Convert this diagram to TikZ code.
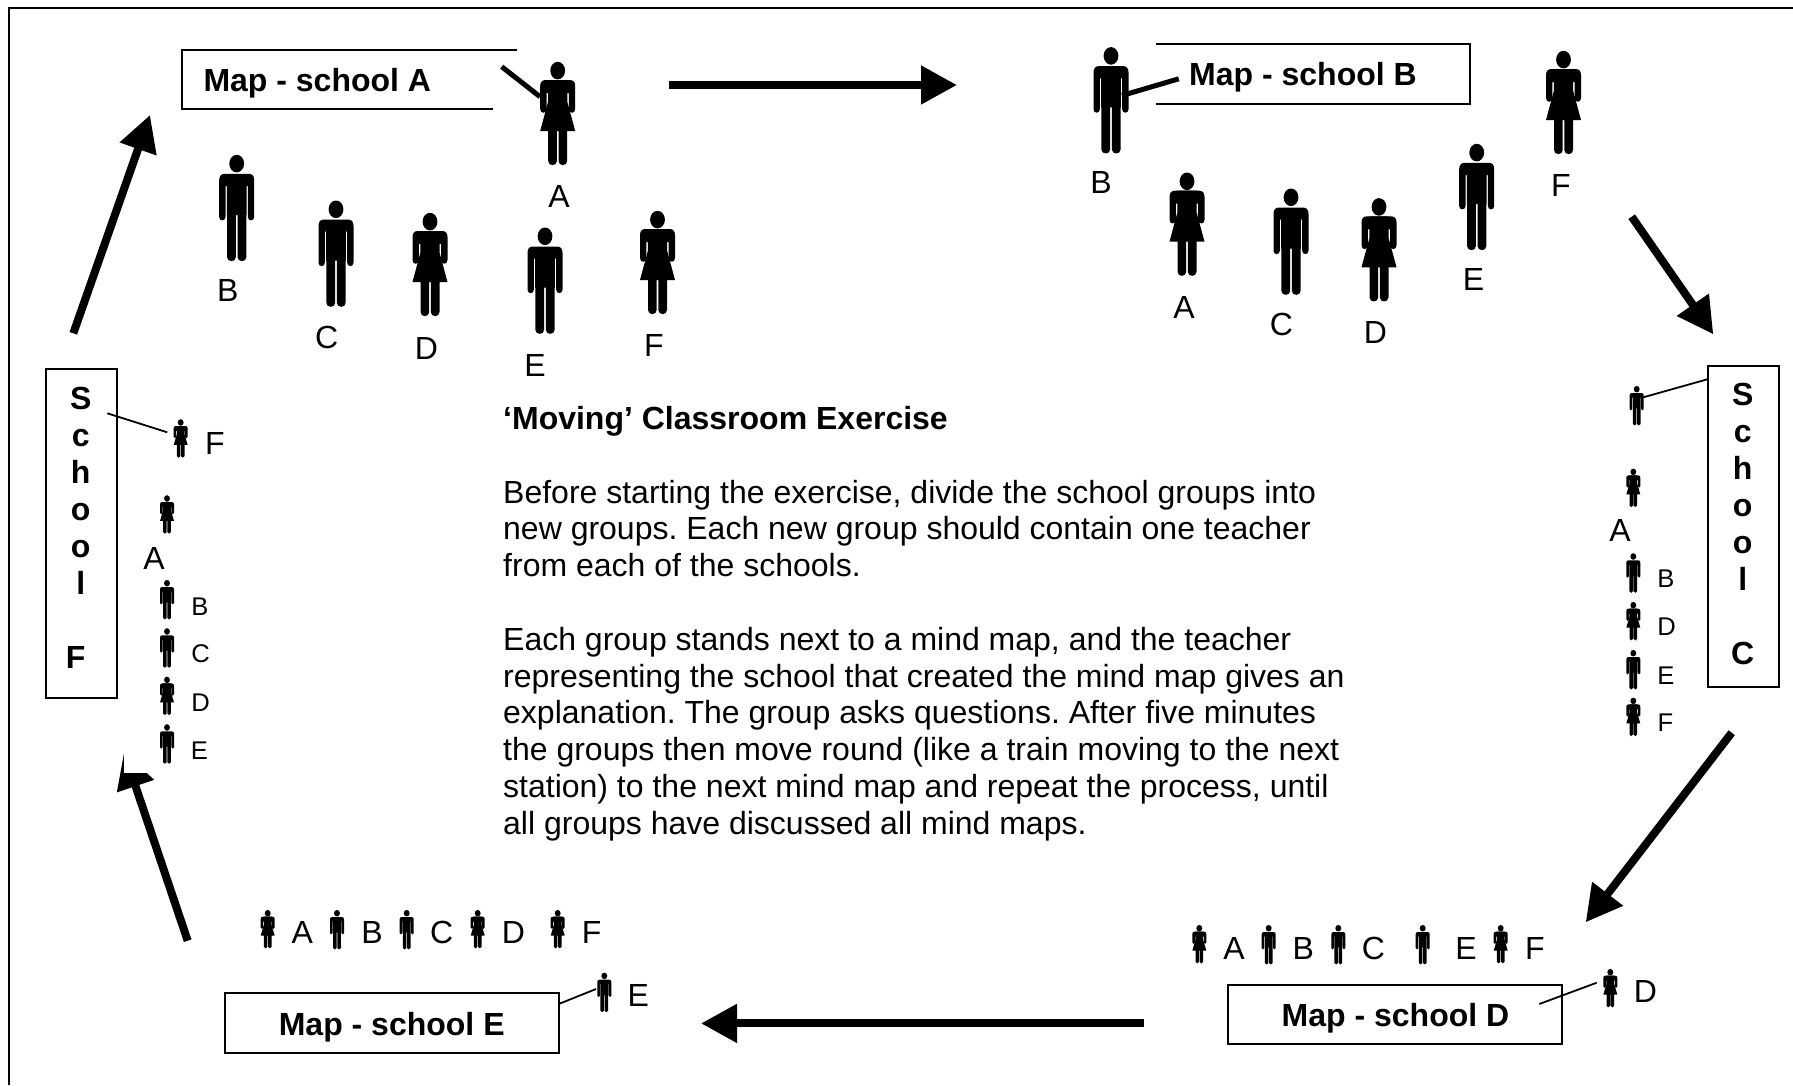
\documentclass[tikz,border=0pt]{standalone}
\usepackage{fontspec}
\setmainfont{Liberation Sans}
\usetikzlibrary{arrows.meta}
\frenchspacing
\tikzset{
  x=1pt,y=-1pt,
  big/.style={font=\fontsize{32}{36.8}\selectfont,anchor=base,inner sep=0pt},
  small/.style={font=\fontsize{25.6}{29}\selectfont,anchor=base,inner sep=0pt},
  maplabel/.style={font=\fontsize{32}{36.8}\selectfont\bfseries,anchor=base,inner sep=0pt},
  mapbox/.style={draw=black,line width=1.8pt,inner sep=0pt,fill=white},
  vtext/.style={font=\fontsize{32}{37}\selectfont\bfseries,align=center,anchor=north,inner sep=0pt},
  bodytext/.style={font=\fontsize{32}{36.8}\selectfont\frenchspacing,align=left,anchor=north west,inner sep=0pt},
  flow/.style={line width=8pt,-{Triangle[length=36pt,width=37pt]}},
  thinlead/.style={line width=1.8pt},
  pointer/.style={line width=5pt},
  tiny/.style={xscale=.4,yscale=.372},
  male/.pic={
    \fill (0,8.6) ellipse [x radius=7.4, y radius=8.8];
    \fill (-12,18.8) -- (12,18.8) .. controls (15.5,18.8) and (17.5,21) .. (17.5,25)
      -- (17.5,62) .. controls (17.5,66.5) and (11.2,66.5) .. (11.2,62) -- (11.2,31) -- (9.9,31) -- (9.9,60)
      -- (9.7,60) -- (9.7,102) .. controls (9.7,107.5) and (0.8,107.5) .. (0.8,102) -- (0.8,60)
      -- (-0.8,60) -- (-0.8,102) .. controls (-0.8,107.5) and (-9.7,107.5) .. (-9.7,102) -- (-9.7,60)
      -- (-9.9,60) -- (-9.9,31) -- (-11.2,31) -- (-11.2,62) .. controls (-11.2,66.5) and (-17.5,66.5) .. (-17.5,62)
      -- (-17.5,25) .. controls (-17.5,21) and (-15.5,18.8) .. (-12,18.8) -- cycle;
  },
  female/.pic={
    \fill (0,8.6) ellipse [x radius=7.4, y radius=8.8];
    % torso, skirt and legs
    \fill (-9.7,18) -- (9.7,18) -- (9.7,40) -- (17.5,69) -- (9.5,69) -- (9.5,99)
      .. controls (9.5,104.5) and (0.8,104.5) .. (0.8,99) -- (0.8,69)
      -- (-0.8,69) -- (-0.8,99) .. controls (-0.8,104.5) and (-9.5,104.5) .. (-9.5,99) -- (-9.5,69)
      -- (-17.5,69) -- (-9.7,40) -- cycle;
    % shoulders and arms
    \fill (-12,18) -- (12,18) .. controls (15.5,18) and (17.5,20) .. (17.5,24)
      -- (17.5,47) .. controls (17.5,52) and (11.2,52) .. (11.2,47) -- (11.2,31) -- (-11.2,31)
      -- (-11.2,47) .. controls (-11.2,52) and (-17.5,52) .. (-17.5,47)
      -- (-17.5,24) .. controls (-17.5,20) and (-15.5,18) .. (-12,18) -- cycle;
  }
}
\begin{document}
\begin{tikzpicture}
\useasboundingbox (0,0) rectangle (1793,1085);
% outer frame (left and top edges)
\coordinate (frameA) at (9,1085);
\coordinate (frameB) at (9,8);
\coordinate (frameC) at (1793,8);
\draw[line width=2pt] (frameA) -- (frameB) -- (frameC);

% flow arrows
\coordinate (a1s) at (73.3,333.3); \coordinate (a1e) at (150,115);
\coordinate (a2s) at (669,85);     \coordinate (a2e) at (957,85);
\coordinate (a3s) at (1631.7,216.7); \coordinate (a3e) at (1713.3,334.3);
\coordinate (a4s) at (1731.7,732.7); \coordinate (a4e) at (1585.7,922.3);
\coordinate (a5s) at (1143.5,1023.4); \coordinate (a5e) at (701,1023.4);
\coordinate (a6s) at (187.7,940.7); \coordinate (a6e) at (124,752);
\draw[flow] (a1s) -- (a1e);
\draw[flow] (a2s) -- (a2e);
\draw[flow] (a3s) -- (a3e);
\draw[flow] (a4s) -- (a4e);
\draw[flow] (a5s) -- (a5e);
\draw[flow] (a6s) -- (a6e);
% the picture's white mask that clips the top of the last arrow head
\fill[white] (124.2,735) rectangle (185,773.3);

% Map A (open box)
\coordinate (boxAa) at (516.7,49.7);
\coordinate (boxAb) at (182,49.7);
\coordinate (boxAc) at (182,109);
\coordinate (boxAd) at (493.3,109);
\draw[line width=1.8pt] (boxAa) -- (boxAb) -- (boxAc) -- (boxAd);
\node[maplabel,anchor=base west] (mapA) at (203.3,91.5) {Map - school A};
\coordinate (pAa) at (501.7,66.7); \coordinate (pAb) at (540,96.7);
\draw[pointer] (pAa) -- (pAb);
\pic at (557.7,62) {female};
\pic at (236.7,155) {male};
\pic at (336,200.7) {male};
\pic at (430,213) {female};
\pic at (545,227.7) {male};
\pic at (657.5,211) {female};
\node[big] (aA) at (559,207.7) {A};
\node[big] (aB) at (227.7,301.7) {B};
\node[big] (aC) at (326.7,348) {C};
\node[big] (aD) at (426.5,359) {D};
\node[big] (aE) at (535,376) {E};
\node[big] (aF) at (654,356) {F};

% Map B (open box)
\coordinate (boxBa) at (1156,44);
\coordinate (boxBb) at (1469.8,44);
\coordinate (boxBc) at (1469.8,104.2);
\coordinate (boxBd) at (1156,104.2);
\draw[line width=1.8pt] (boxBa) -- (boxBb) -- (boxBc) -- (boxBd);
\node[maplabel,anchor=base west] (mapB) at (1189,85.3) {Map - school B};
\coordinate (pBa) at (1178.8,78.8); \coordinate (pBb) at (1122,95.5);
\draw[pointer] (pBa) -- (pBb);
\pic at (1111,47.3) {male};
\pic at (1563.5,51) {female};
\pic at (1187,172.7) {female};
\pic at (1291,188.7) {male};
\pic at (1379,198.3) {female};
\pic at (1476.7,144) {male};
\node[big] (bB) at (1101,193.7) {B};
\node[big] (bA) at (1184,318.3) {A};
\node[big] (bC) at (1281.5,335.7) {C};
\node[big] (bD) at (1375.5,343.5) {D};
\node[big] (bE) at (1473.6,290) {E};
\node[big] (bF) at (1561,196) {F};

% School C
\node[mapbox,minimum width=71pt,minimum height=320.7pt] (boxC) at (1743.2,526.3) {};
\node[vtext] (schoolC) at (1742.7,383) {S\\c\\h\\o\\o\\l\\~\\C};
\coordinate (pCa) at (1707.3,379.3); \coordinate (pCb) at (1643.3,397.3);
\draw[thinlead] (pCa) -- (pCb);
\pic[tiny] at (1636.7,386) {male};
\pic[tiny] at (1633.3,468.7) {female};
\pic[tiny] at (1633.3,553.3) {male};
\pic[tiny] at (1633.3,602) {female};
\pic[tiny] at (1633.3,650) {male};
\pic[tiny] at (1633.3,697.7) {female};
\node[big] (cA) at (1620,541.7) {A};
\node[small] (cB) at (1666,587.7) {B};
\node[small] (cD) at (1666.7,635.7) {D};
\node[small] (cE) at (1666,684) {E};
\node[small] (cF) at (1665.3,731.7) {F};

% Map D
\node[mapbox,minimum width=333.7pt,minimum height=59.3pt] (boxD) at (1395.2,1014.7) {};
\node[maplabel] (mapD) at (1395.5,1026) {Map - school D};
\coordinate (pDa) at (1539.3,1004); \coordinate (pDb) at (1596.7,982.7);
\draw[thinlead] (pDa) -- (pDb);
\pic[tiny] at (1199.3,925) {female};
\pic[tiny] at (1268.7,925) {male};
\pic[tiny] at (1338.3,925) {male};
\pic[tiny] at (1422.7,925) {male};
\pic[tiny] at (1500.7,925) {female};
\pic[tiny] at (1610.3,969) {female};
\node[big] (dA) at (1234,959) {A};
\node[big] (dB) at (1303.3,959) {B};
\node[big] (dC) at (1373.3,959) {C};
\node[big] (dE) at (1466,959) {E};
\node[big] (dF) at (1535,959) {F};
\node[big] (dD) at (1645.3,1002.7) {D};

% Map E
\node[mapbox,minimum width=334pt,minimum height=59.4pt] (boxE) at (391.7,1023) {};
\node[maplabel] (mapE) at (391.7,1035) {Map - school E};
\coordinate (pEa) at (558.7,1004); \coordinate (pEb) at (596,989);
\draw[thinlead] (pEa) -- (pEb);
\pic[tiny] at (267.7,910) {female};
\pic[tiny] at (337,910) {male};
\pic[tiny] at (406.7,910) {male};
\pic[tiny] at (477.7,910) {female};
\pic[tiny] at (557.7,910) {female};
\pic[tiny] at (604.3,972.7) {male};
\node[big] (eA) at (302.3,943.3) {A};
\node[big] (eB) at (372,943.3) {B};
\node[big] (eC) at (441.7,943.3) {C};
\node[big] (eD) at (513.3,943.3) {D};
\node[big] (eF) at (591.7,943.3) {F};
\node[big] (eE) at (638.3,1006.7) {E};

% School F
\node[mapbox,minimum width=71pt,minimum height=329.3pt] (boxF) at (81.2,533.6) {};
\node[vtext] (schoolF) at (80.7,387) {S\\c\\h\\o\\o\\l\\~\\\hspace*{-10pt}F};
\coordinate (pFa) at (107.3,413.3); \coordinate (pFb) at (167.3,432.3);
\draw[thinlead] (pFa) -- (pFb);
\pic[tiny] at (180.7,419.3) {female};
\pic[tiny] at (167,495.3) {female};
\pic[tiny] at (167,580) {male};
\pic[tiny] at (167,628.3) {male};
\pic[tiny] at (167,676.7) {female};
\pic[tiny] at (167,724.3) {male};
\node[big] (fF) at (215,454.3) {F};
\node[big] (fA) at (154,569) {A};
\node[small] (fB) at (200,615) {B};
\node[small] (fC) at (200.7,662.7) {C};
\node[small] (fD) at (200.7,711) {D};
\node[small] (fE) at (199.3,759) {E};

% centre text
\node[bodytext] (body) at (503,406) {\textbf{‘Moving’ Classroom Exercise}\\
~\\
Before starting the exercise, divide the school groups into\\
new groups. Each new group should contain one teacher\\
from each of the schools.\\
~\\
Each group stands next to a mind map, and the teacher\\
representing the school that created the mind map gives an\\
explanation. The group asks questions. After five minutes\\
the groups then move round (like a train moving to the next\\
station) to the next mind map and repeat the process, until\\
all groups have discussed all mind maps.};
\end{tikzpicture}
\end{document}
